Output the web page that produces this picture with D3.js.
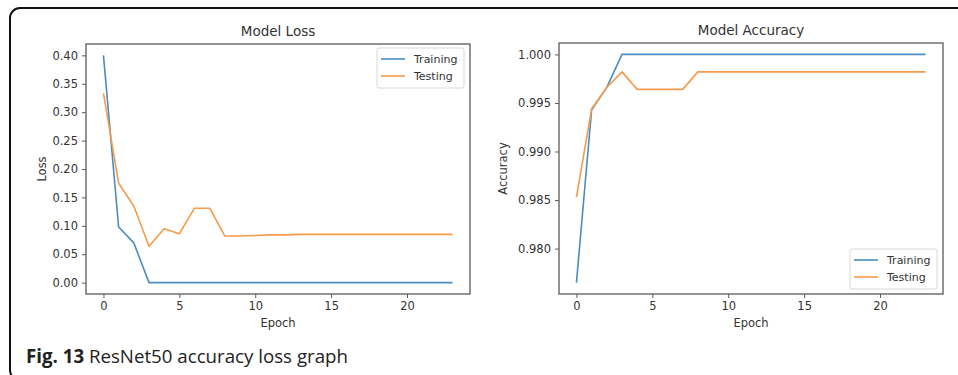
<!DOCTYPE html>
<html>
<head>
<meta charset="utf-8">
<script src="https://cdn.jsdelivr.net/npm/d3@7"></script>
<style>
  body { margin: 0; background: #fff; }
  svg { display: block; }
</style>
</head>
<body>
<svg id="chart" width="958" height="375"></svg>
<script>
/// data ///
const epochs = [0, 1, 2, 3, 4, 5, 6, 7, 8, 9, 10, 11, 12, 13, 14, 15, 16, 17, 18, 19, 20, 21, 22, 23]

const lossTraining = [0.400, 0.098, 0.070, 0.000, 0.000, 0.000, 0.000, 0.000, 0.000, 0.000, 0.000, 0.000,
  0.000, 0.000, 0.000, 0.000, 0.000, 0.000, 0.000, 0.000, 0.000, 0.000, 0.000, 0.000]
const lossTesting = [0.333, 0.175, 0.135, 0.064, 0.095, 0.086, 0.131, 0.131, 0.082, 0.082, 0.083, 0.084,
  0.084, 0.085, 0.085, 0.085, 0.085, 0.085, 0.085, 0.085, 0.085, 0.085, 0.085, 0.085]

const accTraining = [0.9765, 0.9943, 0.9966, 1.0, 1.0, 1.0, 1.0, 1.0, 1.0, 1.0, 1.0, 1.0,
  1.0, 1.0, 1.0, 1.0, 1.0, 1.0, 1.0, 1.0, 1.0, 1.0, 1.0, 1.0]
const accTesting = [0.9853, 0.9944, 0.9966, 0.9982, 0.9964, 0.9964, 0.9964, 0.9964, 0.9982, 0.9982, 0.9982, 0.9982,
  0.9982, 0.9982, 0.9982, 0.9982, 0.9982, 0.9982, 0.9982, 0.9982, 0.9982, 0.9982, 0.9982, 0.9982]

const xTicks = [0, 5, 10, 15, 20]
const lossTicks = [0.00, 0.05, 0.10, 0.15, 0.20, 0.25, 0.30, 0.35, 0.40]
const accTicks = [0.980, 0.985, 0.990, 0.995, 1.000]
const seriesNames = ["Training", "Testing"]

/// constants ///
const trainingColour = "#4a8dc0"
const testingColour = "#f79a4c"
const spineColour = "#5a5a5a"
const textColour = "#333"
const font = "DejaVu Sans, sans-serif"

const svg = d3.select("#chart")

// rounded frame around the figure (runs off the right and bottom edge)
svg.append("rect")
  .attr("x", 10).attr("y", 8)
  .attr("width", 1000).attr("height", 372)
  .attr("rx", 10).attr("ry", 10)
  .attr("fill", "none")
  .attr("stroke", "#111")
  .attr("stroke-width", 2)

// matplotlib-like panel
function drawPanel({left, right, top, bottom, title, yLabel, yTicks, yFormat, series, legendPos}) {
  // 5% margins like matplotlib autoscale
  const yMin = d3.min(series, s => d3.min(s.values))
  const yMax = d3.max(series, s => d3.max(s.values))
  const yPad = (yMax - yMin) * 0.05
  const xPad = (d3.max(epochs) - d3.min(epochs)) * 0.05

  const xScale = d3.scaleLinear()
    .domain([d3.min(epochs) - xPad, d3.max(epochs) + xPad])
    .range([left, right])
  const yScale = d3.scaleLinear()
    .domain([yMin - yPad, yMax + yPad])
    .range([bottom, top])

  const g = svg.append("g")

  // axes
  const xAxis = g.append("g")
    .attr("transform", `translate(0, ${bottom})`)
    .call(d3.axisBottom(xScale).tickValues(xTicks).tickFormat(d3.format("d")).tickSize(4).tickPadding(4))
  const yAxis = g.append("g")
    .attr("transform", `translate(${left}, 0)`)
    .call(d3.axisLeft(yScale).tickValues(yTicks).tickFormat(d3.format(yFormat)).tickSize(4).tickPadding(4))

  for (const ax of [xAxis, yAxis]) {
    ax.select(".domain").remove()
    ax.selectAll(".tick line").attr("stroke", spineColour).attr("stroke-width", 1)
    ax.selectAll(".tick text")
      .attr("fill", textColour)
      .attr("font-family", font)
      .attr("font-size", "11.5px")
  }

  // lines
  const line = values => d3.line()
    .x((d, i) => xScale(epochs[i]))
    .y(d => yScale(d))(values)

  series.forEach(s => {
    g.append("path")
      .attr("d", line(s.values))
      .attr("fill", "none")
      .attr("stroke", s.colour)
      .attr("stroke-width", 1.6)
      .attr("stroke-linejoin", "round")
  })

  // spines
  g.append("rect")
    .attr("x", left).attr("y", top)
    .attr("width", right - left).attr("height", bottom - top)
    .attr("fill", "none")
    .attr("stroke", spineColour)
    .attr("stroke-width", 1.3)

  // title & labels
  g.append("text")
    .attr("x", (left + right) / 2).attr("y", top - 8)
    .attr("text-anchor", "middle")
    .attr("font-family", font).attr("font-size", "13.5px")
    .attr("fill", textColour)
    .text(title)

  g.append("text")
    .attr("x", (left + right) / 2).attr("y", bottom + 33)
    .attr("text-anchor", "middle")
    .attr("font-family", font).attr("font-size", "11.5px")
    .attr("fill", textColour)
    .text("Epoch")

  g.append("text")
    .attr("transform", `translate(${yLabel.x}, ${(top + bottom) / 2}) rotate(-90)`)
    .attr("text-anchor", "middle")
    .attr("font-family", font).attr("font-size", "11.5px")
    .attr("fill", textColour)
    .text(yLabel.text)

  // legend
  const lg = g.append("g").attr("transform", `translate(${legendPos.x}, ${legendPos.y})`)
  lg.append("rect")
    .attr("width", 87).attr("height", 40)
    .attr("rx", 2)
    .attr("fill", "#fff").attr("fill-opacity", 0.85)
    .attr("stroke", "#d8d8d8")
  series.forEach((s, i) => {
    lg.append("line")
      .attr("x1", 4).attr("x2", 28)
      .attr("y1", 11 + i * 17).attr("y2", 11 + i * 17)
      .attr("stroke", s.colour).attr("stroke-width", 1.6)
    lg.append("text")
      .attr("x", 37).attr("y", 15 + i * 17)
      .attr("font-family", font).attr("font-size", "11px")
      .attr("fill", textColour)
      .text(s.name)
  })
}

drawPanel({
  left: 86, right: 470, top: 44, bottom: 294,
  title: "Model Loss",
  yLabel: {text: "Loss", x: 46},
  yTicks: lossTicks, yFormat: ".2f",
  series: [
    {name: seriesNames[0], values: lossTraining, colour: trainingColour},
    {name: seriesNames[1], values: lossTesting, colour: testingColour}
  ],
  legendPos: {x: 377, y: 48}
})

drawPanel({
  left: 559, right: 943, top: 43, bottom: 294,
  title: "Model Accuracy",
  yLabel: {text: "Accuracy", x: 507},
  yTicks: accTicks, yFormat: ".3f",
  series: [
    {name: seriesNames[0], values: accTraining, colour: trainingColour},
    {name: seriesNames[1], values: accTesting, colour: testingColour}
  ],
  legendPos: {x: 850, y: 249}
})

// caption
const caption = svg.append("text")
  .attr("x", 26).attr("y", 363)
  .attr("font-family", "Open Sans, sans-serif")
  .attr("font-size", "18.7px")
  .attr("fill", "#222")
caption.append("tspan").attr("font-weight", "bold").text("Fig. 13")
caption.append("tspan").text(" ResNet50 accuracy loss graph")
</script>
</body>
</html>
